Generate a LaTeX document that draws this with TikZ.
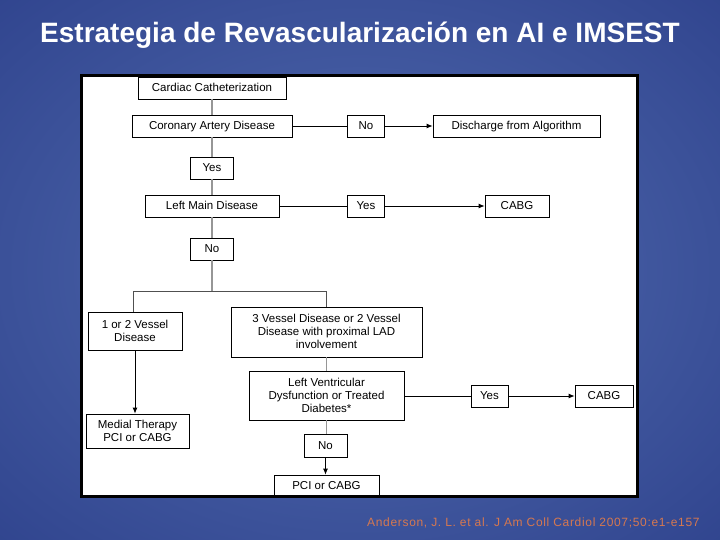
\documentclass[tikz,border=0pt]{standalone}
\usepackage{fontspec}
\setmainfont{Liberation Sans}
\usetikzlibrary{arrows.meta}
\definecolor{bgin}{RGB}{82,108,176}
\definecolor{bgmid}{RGB}{36,54,130}
\definecolor{bgout}{RGB}{22,36,104}
\definecolor{refc}{RGB}{214,120,80}
\definecolor{gline}{RGB}{150,150,150}
\definecolor{dline}{RGB}{80,80,80}
\pgfdeclareradialshading{bgshade}{\pgfpoint{0bp}{0bp}}{color(0bp)=(bgin); color(35bp)=(bgmid); color(50bp)=(bgout)}
\begin{document}
\begin{tikzpicture}[x=1pt,y=-1pt,
  box/.style={draw=black,fill=white,line width=0.8pt,inner sep=0pt,align=center,text depth=0.5pt,font=\fontsize{11.5}{13}\selectfont},
  gl/.style={draw=gline,line width=1.2pt},
  dl/.style={draw=dline,line width=1pt},
  bl/.style={draw=black,line width=0.8pt},
  arr/.style={bl,-{Latex[length=6pt,width=5pt]}}]
\useasboundingbox (0,0) rectangle (720,540);
\begin{scope}
\clip (0,0) rectangle (720,540);
\shade[shading=bgshade] (-149,-112) rectangle (869,652);
\end{scope}
\node[text=white,font=\fontsize{28}{32}\selectfont\bfseries,anchor=base,inner sep=0pt] (title) at (360,43) {Estrategia de Revascularización en AI e IMSEST};
\draw[line width=3pt,fill=white] (81.5,75.5) rectangle (637.5,496.5);

\node[box,minimum width=148,minimum height=22] (cc) at (212,88) {Cardiac Catheterization};
\node[box,minimum width=160,minimum height=22] (cad) at (212,126) {Coronary Artery Disease};
\node[box,minimum width=37,minimum height=22] (no1) at (366,126) {No};
\node[box,minimum width=167,minimum height=22] (dis) at (516.5,126) {Discharge from Algorithm};
\node[box,minimum width=43,minimum height=22] (yes1) at (212,168) {Yes};
\node[box,minimum width=134,minimum height=22] (lmd) at (212,206) {Left Main Disease};
\node[box,minimum width=37,minimum height=22] (yes2) at (366,206) {Yes};
\node[box,minimum width=64,minimum height=22] (cabg1) at (517,206) {CABG};
\node[box,minimum width=43,minimum height=22] (no2) at (212,249) {No};
\node[box,minimum width=94,minimum height=38] (v12) at (135,331) {1 or 2 Vessel\\Disease};
\node[box,minimum width=191,minimum height=50] (v3) at (326.5,332) {3 Vessel Disease or 2 Vessel\\Disease with proximal LAD\\involvement};
\node[box,minimum width=155,minimum height=49] (lv) at (326.5,395.5) {Left Ventricular\\Dysfunction or Treated\\Diabetes*};
\node[box,minimum width=37,minimum height=22] (yes3) at (489.5,396) {Yes};
\node[box,minimum width=58,minimum height=22] (cabg2) at (604,396) {CABG};
\node[box,minimum width=103,minimum height=34] (med) at (137.5,431) {Medial Therapy\\PCI or CABG};
\node[box,minimum width=43,minimum height=23] (no3) at (325.5,445.5) {No};
\node[box,minimum width=105,minimum height=22] (pci) at (326.5,486) {PCI or CABG};

\coordinate (bM) at (212,291);
\coordinate (bL) at (133,291);
\coordinate (bR) at (326.5,291);

\draw[gl] (cc.south) -- (cad.north);
\draw[gl] (cad.south) -- (yes1.north);
\draw[gl] (yes1.south) -- (lmd.north);
\draw[gl] (lmd.south) -- (no2.north);
\draw[gl] (no2.south) -- (bM);
\draw[dl] (bL) -- (bR);
\draw[dl] (bL) -- (bL |- v12.north);
\draw[dl] (bR) -- (v3.north);
\draw[gl] (v3.south) -- (lv.north);
\draw[gl] (lv.south) -- (lv.south |- no3.north);

\draw[bl] (cad.east) -- (no1.west);
\draw[arr] (no1.east) -- (dis.west);
\draw[bl] (lmd.east) -- (yes2.west);
\draw[arr] (yes2.east) -- (cabg1.west);
\draw[bl] (lv.east |- yes3.west) -- (yes3.west);
\draw[arr] (yes3.east) -- (cabg2.west);
\draw[arr] (v12.south) -- (v12.south |- med.north);
\draw[arr] (no3.south) -- (no3.south |- pci.north);

\draw[line width=3pt] (81.5,75.5) rectangle (637.5,496.5);
\node[text=refc,font=\fontsize{12}{14}\selectfont\addfontfeatures{LetterSpace=5.6},anchor=west,inner sep=0pt] (ref) at (367,523) {Anderson, J. L. et al. J Am Coll Cardiol 2007;50:e1-e157};
\end{tikzpicture}
\end{document}
